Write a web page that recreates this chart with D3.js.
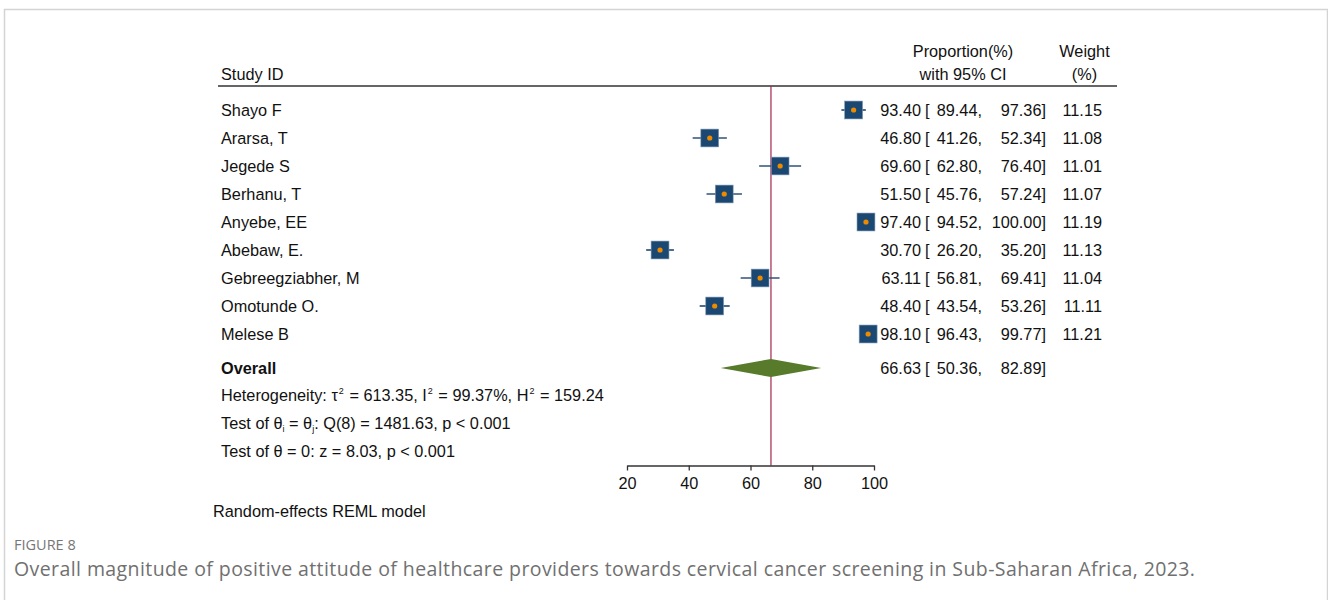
<!DOCTYPE html>
<html><head><meta charset="utf-8">
<script src="https://cdn.jsdelivr.net/npm/d3@7"></script>
<style>
html,body{margin:0;padding:0;background:#fff;}
svg{display:block;}
</style></head>
<body>
<svg id="chart" width="1328" height="600"></svg>
<script>
const studies = ["Shayo F","Ararsa, T","Jegede S","Berhanu, T","Anyebe, EE","Abebaw, E.","Gebreegziabher, M","Omotunde O.","Melese B"];
const estimates = [93.40,46.80,69.60,51.50,97.40,30.70,63.11,48.40,98.10];
const lowers = [89.44,41.26,62.80,45.76,94.52,26.20,56.81,43.54,96.43];
const uppers = [97.36,52.34,76.40,57.24,100.00,35.20,69.41,53.26,99.77];
const weights = [11.15,11.08,11.01,11.07,11.19,11.13,11.04,11.11,11.21];
const overall = {est:66.63, lo:50.36, hi:82.89};
const xTicks = [20,40,60,80,100];

const svg = d3.select("#chart");
const font = "'Liberation Sans', Arial, Helvetica, sans-serif";
const cap = "'Open Sans', 'Noto Sans', sans-serif";
const FS = 16.3;

// outer frame
svg.append("path").attr("d","M4.5,600 L4.5,9.5 L1327.5,9.5 L1327.5,600")
  .attr("fill","none").attr("stroke","#d4d4d4").attr("stroke-width",1.5);

const x = d3.scaleLinear().domain([20,100]).range([627,874]);
const y = d3.scaleBand().domain(studies).range([96,348]);
const rowY = s => y(s) + y.bandwidth()/2;

const txt = (g,xx,yy,t,anchor,opts={}) => g.append("text").attr("x",xx).attr("y",yy)
  .attr("text-anchor",anchor||"start").attr("font-family",opts.ff||font)
  .attr("font-size",opts.fs||FS).attr("fill",opts.fill||"#111")
  .attr("font-weight",opts.fw||"normal").text(t);

// headers
txt(svg,221,80,"Study ID");
txt(svg,963,57,"Proportion(%)","middle");
txt(svg,963,80,"with 95% CI","middle");
txt(svg,1084.5,57,"Weight","middle");
txt(svg,1084.5,80,"(%)","middle");
svg.append("line").attr("x1",218).attr("x2",1117).attr("y1",86).attr("y2",86)
  .attr("stroke","#333").attr("stroke-width",1.6);

// overall vertical line
svg.append("line").attr("x1",x(overall.est)).attr("x2",x(overall.est))
  .attr("y1",86).attr("y2",465.5).attr("stroke","#a3274f").attr("stroke-width",1.2);

// rows
const fmt = d3.format(".2f");
const rows = svg.append("g").selectAll("g").data(studies).join("g");
rows.each(function(s,i){
  const g = d3.select(this);
  const cy = rowY(s);
  txt(g,221,cy+6,s);
  g.append("line").attr("x1",x(lowers[i])).attr("x2",x(uppers[i])).attr("y1",cy).attr("y2",cy)
    .attr("stroke","#2f527a").attr("stroke-width",1.7);
  const sz = 5.35*Math.sqrt(weights[i]);
  g.append("rect").attr("x",x(estimates[i])-sz/2).attr("y",cy-sz/2).attr("width",sz).attr("height",sz)
    .attr("fill","#1b4872").attr("stroke","#7f97b0").attr("stroke-width",0.6);
  g.append("circle").attr("cx",x(estimates[i])).attr("cy",cy).attr("r",2.6).attr("fill","#ec8a00");
  txt(g,921,cy+6,fmt(estimates[i]),"end");
  txt(g,925,cy+6,"[");
  txt(g,982,cy+6,fmt(lowers[i])+",","end");
  txt(g,1046,cy+6,fmt(uppers[i])+"]","end");
  txt(g,1102,cy+6,fmt(weights[i]),"end");
});

// overall
const oy = 368;
txt(svg,221,oy+6,"Overall","start",{fw:"bold"});
svg.append("path").attr("d",`M${x(overall.lo)},${oy} L${x(overall.est)},${oy-9} L${x(overall.hi)},${oy} L${x(overall.est)},${oy+9} Z`)
  .attr("fill","#587a2b");
txt(svg,921,oy+6,fmt(overall.est),"end");
txt(svg,925,oy+6,"[");
txt(svg,982,oy+6,fmt(overall.lo)+",","end");
txt(svg,1046,oy+6,fmt(overall.hi)+"]","end");

// heterogeneity
function rich(yy, parts){
  const t = svg.append("text").attr("x",221).attr("y",yy).attr("font-family",font).attr("font-size",FS).attr("fill","#111");
  parts.forEach(p=>{
    if(typeof p === "string") t.append("tspan").text(p);
    else if(p.sup){ t.append("tspan").attr("dx",1).attr("dy",-7).attr("font-size",9).text(p.sup); t.append("tspan").attr("dx",1).attr("dy",7).text(p.after); }
    else if(p.sub){ t.append("tspan").attr("dy",3).attr("font-size",9).text(p.sub); t.append("tspan").attr("dy",-3).text(p.after); }
  });
}
rich(401,["Heterogeneity: τ",{sup:"2",after:" = 613.35, I"},{sup:"2",after:" = 99.37%, H"},{sup:"2",after:" = 159.24"}]);
rich(429,["Test of θ",{sub:"i",after:" = θ"},{sub:"j",after:": Q(8) = 1481.63, p < 0.001"}]);
rich(457,["Test of θ = 0: z = 8.03, p < 0.001"]);

// axis
const ax = svg.append("g").attr("transform","translate(0,465.5)")
  .call(d3.axisBottom(x).tickValues(xTicks).tickSize(5).tickPadding(7).tickSizeOuter(0));
ax.select(".domain").attr("stroke","#333").attr("stroke-width",1.3);
ax.selectAll(".tick line").attr("stroke","#333").attr("stroke-width",1.3);
ax.selectAll(".tick text").attr("font-family",font).attr("font-size",FS).attr("fill","#111");

txt(svg,213,517,"Random-effects REML model");

// caption
txt(svg,14,550,"FIGURE 8","start",{ff:cap,fs:14.5,fill:"#777"});
txt(svg,14,576,"Overall magnitude of positive attitude of healthcare providers towards cervical cancer screening in Sub-Saharan Africa, 2023.","start",{ff:cap,fs:19.5,fill:"#707070"})
  .attr("textLength",1181).attr("lengthAdjust","spacing");
</script>
</body></html>
